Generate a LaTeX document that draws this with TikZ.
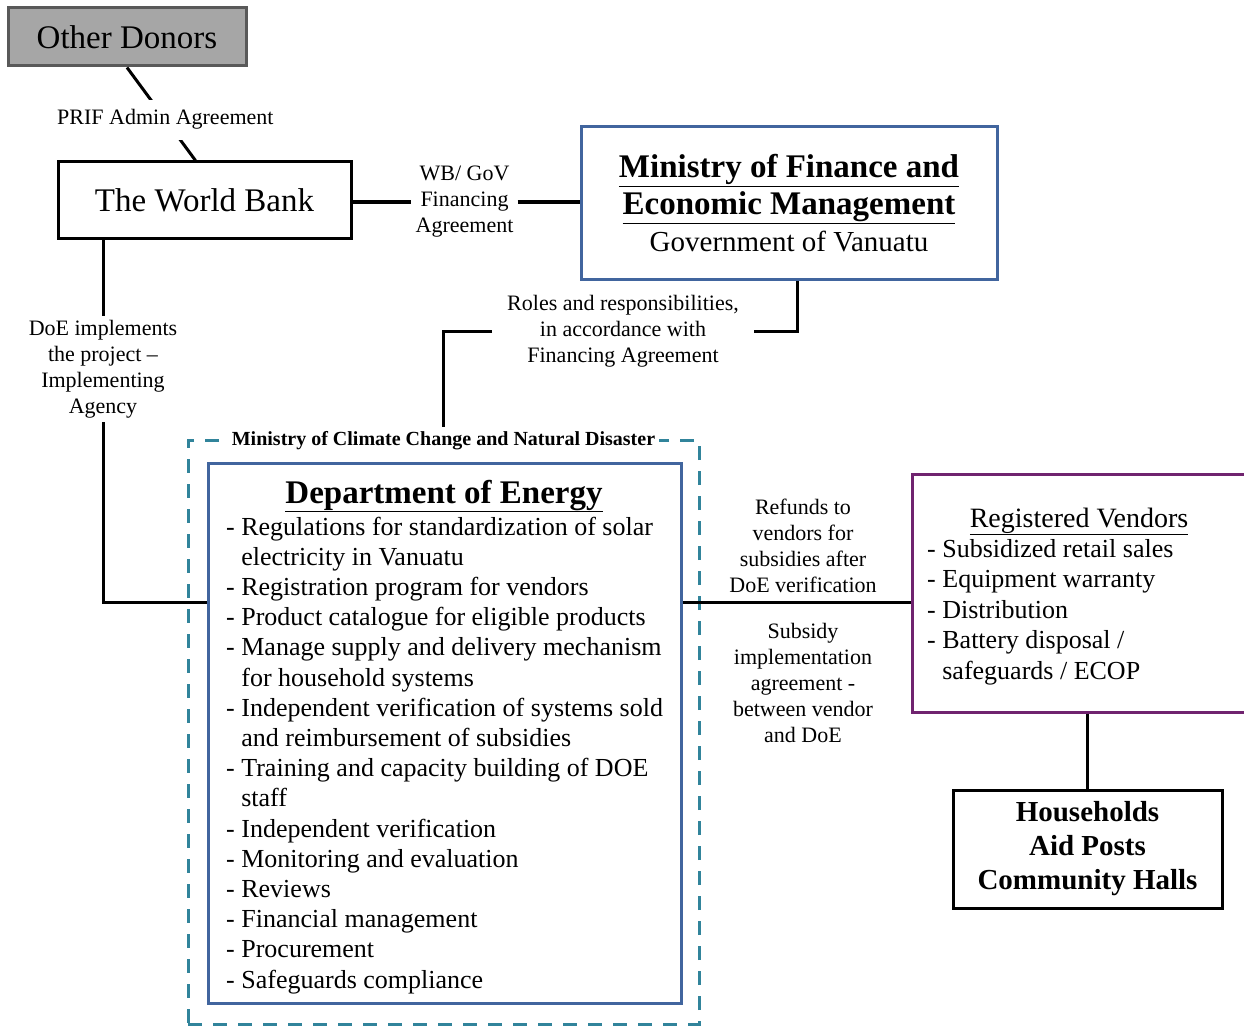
\documentclass[tikz,border=0pt]{standalone}
\usepackage{fontspec}
\setmainfont{Liberation Serif}
\usepackage{xcolor}
\definecolor{donorgray}{HTML}{A6A6A6}
\definecolor{donorline}{HTML}{595959}
\definecolor{boxblue}{HTML}{41659E}
\definecolor{dashteal}{HTML}{31849B}
\definecolor{vendpurple}{HTML}{70236F}
\tikzset{
  box/.style={draw, rectangle, line width=3pt, inner sep=0pt},
  conn/.style={line width=3pt},
  lbl/.style={fill=white, align=center, inner sep=4pt, font=\fontsize{22}{26}\selectfont},
  item/.style={anchor=base west, inner sep=0pt, font=\fontsize{26}{30}\selectfont},
}
\begin{document}
\begin{tikzpicture}[x=1pt,y=-1pt]
\useasboundingbox (0,0) rectangle (1244,1027);
% boxes
\node[box, fill=donorgray, draw=donorline, minimum width=238, minimum height=58, font=\fontsize{33}{38}\selectfont] (donors) at (127,37) {Other Donors};
\node[box, minimum width=293, minimum height=76, font=\fontsize{33}{38}\selectfont] (wb) at (204.5,200) {The World Bank};
\node[box, draw=boxblue, minimum width=416, minimum height=152, align=center, font=\fontsize{33}{37}\selectfont] (mof) at (789,203)
  {{\bfseries\underline{Ministry of Finance and}}\\{\bfseries\underline{Economic Management}}\\{\fontsize{29}{37}\selectfont Government of Vanuatu}};
\node[draw=dashteal, dash pattern=on 14pt off 11pt, line width=3pt, minimum width=511, minimum height=584] (mccnd) at (443.5,732) {};
\node[fill=white, inner sep=4pt, font=\fontsize{20}{24}\selectfont\bfseries] (climlbl) at ([yshift=-2pt]mccnd.north) {Ministry of Climate Change and Natural Disaster};
\node[box, draw=boxblue, minimum width=473, minimum height=540] (doe) at (444.5,733) {};
\node[anchor=base, font=\fontsize{33}{38}\selectfont\bfseries] (doetitle) at (444,503) {\underline{Department of Energy}};
\foreach \txt [count=\i] in {- Regulations for standardization of solar, \hphantom{- }electricity in Vanuatu,
  - Registration program for vendors, - Product catalogue for eligible products,
  - Manage supply and delivery mechanism, \hphantom{- }for household systems,
  - Independent verification of systems sold, \hphantom{- }and reimbursement of subsidies,
  - Training and capacity building of DOE, \hphantom{- }staff, - Independent verification,
  - Monitoring and evaluation, - Reviews, - Financial management, - Procurement, - Safeguards compliance}
  \node[item] (doeitem\i) at (226,{535+30.2*(\i-1)}) {\txt};
\node[box, draw=vendpurple, minimum width=336, minimum height=238] (vend) at (1080,593) {};
\node[anchor=base, font=\fontsize{28}{32}\selectfont] (vendtitle) at (1079,527) {\underline{Registered Vendors}};
\foreach \txt [count=\i] in {- Subsidized retail sales, - Equipment warranty, - Distribution,
  - Battery disposal /, \hphantom{- }safeguards / ECOP}
  \node[item] (venditem\i) at (927,{557+30.5*(\i-1)}) {\txt};
\node[box, minimum width=269, minimum height=118, align=center, font=\fontsize{29}{34}\selectfont\bfseries] (hh) at (1087.5,849)
  {Households\\Aid Posts\\Community Halls};
% labels
\node[lbl] (wbgov) at (464.5,202) {WB/ GoV\\Financing\\Agreement};
\node[lbl, inner xsep=15pt] (roles) at (623,331) {Roles and responsibilities,\\in accordance with\\Financing Agreement};
\node[lbl] (doeimpl) at (103,369) {DoE implements\\the project –\\Implementing\\Agency};
\node[lbl] (refunds) at (803,546) {Refunds to\\vendors for\\subsidies after\\DoE verification};
\node[lbl] (subsidy) at (803,683) {Subsidy\\implementation\\agreement -\\between vendor\\and DoE};
\coordinate (hl) at (0,602);
% connectors
\draw[conn] (donors.south) -- node[lbl, inner ysep=10pt, pos=0.56] (prif) {PRIF Admin Agreement} ([xshift=-9pt]wb.north);
\draw[conn] (wb.east |- wbgov) -- (wbgov.west);
\draw[conn] (wbgov.east) -- (mof.west |- wbgov);
\draw[conn] ([xshift=8pt]mof.south) |- (roles.east);
\draw[conn] (roles.west) -| (climlbl.north);
\draw[conn] (wb.south -| doeimpl.north) -- (doeimpl.north);
\draw[conn] (doeimpl.south) |- (doe.west |- hl);
\draw[conn] (doe.east |- hl) -- (vend.west |- hl);
\draw[conn] (hh.north |- vend.south) -- (hh.north);
\end{tikzpicture}
\end{document}
